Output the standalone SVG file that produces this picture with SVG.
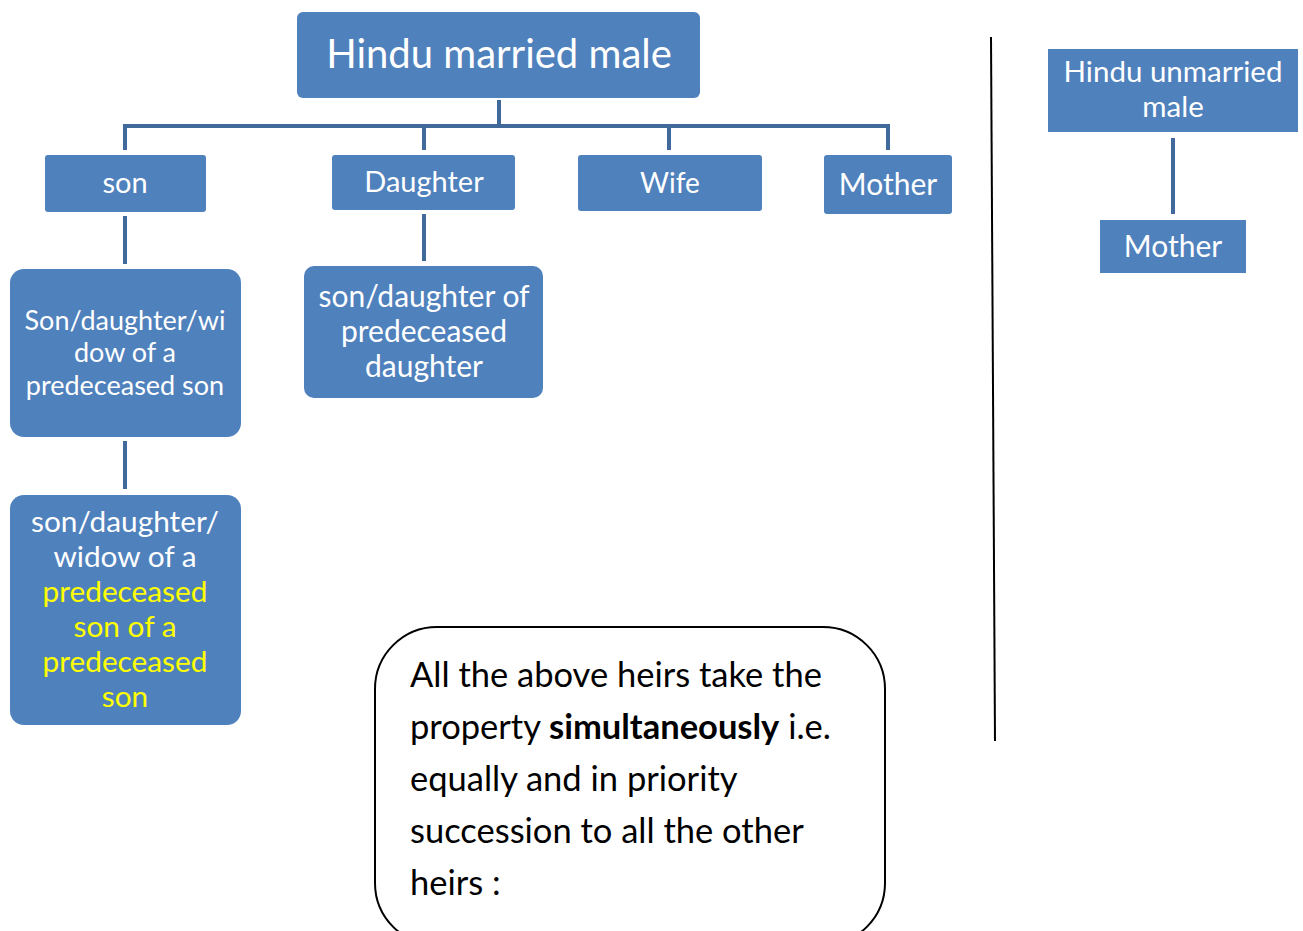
<svg xmlns="http://www.w3.org/2000/svg" width="1303" height="931" viewBox="0 0 1303 931">
<style>
.box{fill:#4F81BD;}
.t{font-family:Lato,"Open Sans",sans-serif;fill:#FFFFFF;text-anchor:middle;}
.y{fill:#FFFF00;}
.c{stroke:#41699A;stroke-width:4;fill:none;}
.note{font-family:Lato,"Open Sans",sans-serif;fill:#000;font-size:34.5px;}
</style>
<rect width="1303" height="931" fill="#fff"/>
<g id="connectors">
<line class="c" x1="499" y1="100" x2="499" y2="126"/>
<polyline class="c" points="125,150 125,126 888,126 888,150"/>
<line class="c" x1="424" y1="126" x2="424" y2="150"/>
<line class="c" x1="669" y1="126" x2="669" y2="150"/>
<line class="c" x1="125" y1="216" x2="125" y2="264"/>
<line class="c" x1="125" y1="441" x2="125" y2="489"/>
<line class="c" x1="424" y1="214" x2="424" y2="261"/>
<line class="c" x1="1173" y1="138" x2="1173" y2="214"/>
<line x1="991" y1="37" x2="995" y2="741" stroke="#000" stroke-width="2"/>
</g>
<g id="root">
<rect class="box" x="297" y="12" width="403" height="86" rx="6"/>
<text class="t" x="499" y="68" font-size="40">Hindu married male</text>
</g>
<g id="son">
<rect class="box" x="45" y="155" width="161" height="57" rx="3"/>
<text class="t" x="125" y="193" font-size="29">son</text>
</g>
<g id="daughter">
<rect class="box" x="332" y="155" width="183" height="55" rx="3"/>
<text class="t" x="424" y="192" font-size="29">Daughter</text>
</g>
<g id="wife">
<rect class="box" x="578" y="155" width="184" height="56" rx="3"/>
<text class="t" x="670" y="193" font-size="28">Wife</text>
</g>
<g id="mother">
<rect class="box" x="824" y="155" width="128" height="59" rx="3"/>
<text class="t" x="888" y="195" font-size="30">Mother</text>
</g>
<g id="predeceased-son">
<rect class="box" x="10" y="269" width="231" height="168" rx="14"/>
<text class="t" font-size="27"><tspan x="125" y="330">Son/daughter/wi</tspan><tspan x="125" y="362">dow of a</tspan><tspan x="125" y="395">predeceased son</tspan></text>
</g>
<g id="predeceased-son-of-son">
<rect class="box" x="10" y="495" width="231" height="230" rx="14"/>
<text class="t" font-size="29.8"><tspan x="125" y="532">son/daughter/</tspan><tspan x="125" y="567">widow of a</tspan><tspan class="y" x="125" y="602">predeceased</tspan><tspan class="y" x="125" y="637">son of a</tspan><tspan class="y" x="125" y="672">predeceased</tspan><tspan class="y" x="125" y="707">son</tspan></text>
</g>
<g id="predeceased-daughter">
<rect class="box" x="304" y="266" width="239" height="132" rx="10"/>
<text class="t" font-size="30"><tspan x="424" y="307">son/daughter of</tspan><tspan x="424" y="342">predeceased</tspan><tspan x="424" y="377">daughter</tspan></text>
</g>
<g id="unmarried">
<rect class="box" x="1048" y="49" width="250" height="83"/>
<text class="t" font-size="29.5"><tspan x="1173" y="82">Hindu unmarried</tspan><tspan x="1173" y="117">male</tspan></text>
</g>
<g id="mother2">
<rect class="box" x="1100" y="220" width="146" height="53"/>
<text class="t" x="1173" y="257" font-size="30">Mother</text>
</g>
<g id="note">
<rect x="375" y="627" width="510" height="318" rx="62" fill="none" stroke="#000" stroke-width="2"/>
<text class="note"><tspan x="410" y="687">All the above heirs take the</tspan><tspan x="410" y="739">property <tspan font-weight="bold">simultaneously</tspan> i.e.</tspan><tspan x="410" y="791">equally and in priority</tspan><tspan x="410" y="843">succession to all the other</tspan><tspan x="410" y="895">heirs :</tspan></text>
</g>
</svg>
